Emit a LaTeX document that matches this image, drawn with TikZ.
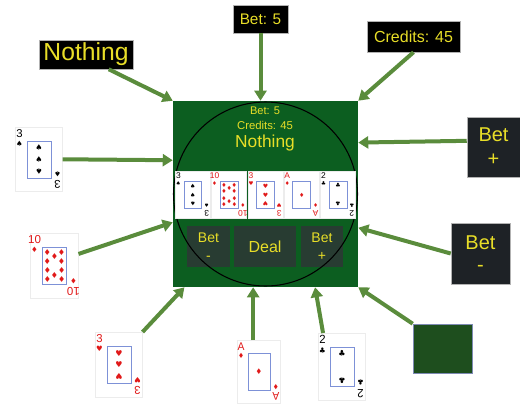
\documentclass[tikz,border=0pt]{standalone}
\usepackage{fontspec}
\setmainfont{Liberation Sans}
\newfontfamily\suitfont{DejaVu Sans}
\usetikzlibrary{arrows.meta}

\definecolor{tablegreen}{RGB}{12,94,32}
\definecolor{arrowgreen}{RGB}{90,140,60}
\definecolor{hudyellow}{RGB}{232,222,40}
\definecolor{btngray}{RGB}{40,60,50}
\definecolor{panelgray}{RGB}{30,34,38}
\definecolor{squaregreen}{RGB}{30,78,30}
\definecolor{cardred}{RGB}{225,25,25}
\definecolor{cardblue}{RGB}{125,145,215}

\tikzset{
  arrowin/.style={draw=arrowgreen, line width=3pt, -{Triangle[length=7.5pt,width=9pt]}},
  hudbox/.style={draw=gray!60, fill=black, text=hudyellow, inner sep=0pt},
  panelbox/.style={draw=gray!60, fill=panelgray, text=hudyellow, inner sep=0pt, align=center},
  btn/.style={fill=btngray, text=hudyellow, inner sep=0pt, align=center},
  hudtext/.style={text=hudyellow, inner sep=0pt},
  cardbox/.style={draw=gray!15, fill=white, inner sep=0pt},
  cardframe/.style={draw=cardblue, line width=0.6pt},
  rank/.style={inner sep=0pt, font=\fontsize{8.5}{8.5}\selectfont},
  suitmark/.style={inner sep=0pt, font=\suitfont\fontsize{5.5}{5.5}\selectfont},
  pip/.style={inner sep=0pt, font=\suitfont\fontsize{6}{6}\selectfont}
}

% name, top-left corner, width, height, rank, suit, colour, pips as x/y/turn
\newcommand{\playcard}[8]{%
  \node[cardbox, minimum width=#3*0.75pt, minimum height=#4*0.75pt, anchor=north west] (#1) at (#2) {};
  \begin{scope}[shift={(#1.north west)}, xscale=#3/47, yscale=#4/64, transform shape, text=#7]
    \draw[cardframe] (12,14) rectangle (36,51);
    \node[rank] (#1-rk) at (4.5,6.5) {#5};
    \node[suitmark] (#1-st) at (4.5,16.5) {#6};
    \node[rank, rotate=180] (#1-rkb) at (42.5,57.5) {#5};
    \node[suitmark, rotate=180] (#1-stb) at (42.5,47.5) {#6};
    \foreach \px/\py/\turn [count=\pipno] in {#8}
      \node[pip, rotate=\turn] (#1-pip\pipno) at (\px,\py) {#6};
  \end{scope}}

\begin{document}
\begin{tikzpicture}[x=0.75pt,y=-0.75pt]
  \useasboundingbox (0,0) rectangle (520,404);

  % the table
  \node[fill=tablegreen, minimum width=138.75pt, minimum height=139.5pt, inner sep=0pt] (table) at (265.5,194) {};

  \node[hudtext, font=\fontsize{8.3}{9}\selectfont] (tbet) at (265,111) {Bet: 5};
  \node[hudtext, font=\fontsize{8.5}{9}\selectfont] (tcredits) at (265,125) {Credits: 45};
  \node[hudtext, font=\fontsize{13}{14}\selectfont] (tresult) at (265,143) {Nothing};

  \node[btn, minimum width=32.25pt, minimum height=30.75pt, font=\fontsize{10.5}{13.5}\selectfont] (btnminus) at (208.5,246.5) {Bet\\-};
  \node[btn, minimum width=46.5pt, minimum height=30.75pt, font=\fontsize{12}{13}\selectfont] (btndeal) at (265,246.5) {Deal};
  \node[btn, minimum width=31.5pt, minimum height=30.75pt, font=\fontsize{10.5}{13.5}\selectfont] (btnplus) at (322,246.5) {Bet\\+};

  \node[circle, draw=black, line width=0.8pt, minimum size=138pt, inner sep=0pt] (rim) at (table.center) {};

  % the hand on the table
  \playcard{hand1}{175,171}{35}{47}{3}{♠}{black}{24/21/0,24/32.5/0,24/44/180}
  \playcard{hand2}{211.3,171}{35}{47}{10}{♦}{cardred}{17/19/0,17/28/0,17/37/180,17/46/180,31/19/0,31/28/0,31/37/180,31/46/180,24/23.5/0,24/41.5/180}
  \playcard{hand3}{247.6,171}{35}{47}{3}{♥}{cardred}{24/21/0,24/32.5/0,24/44/180}
  \playcard{hand4}{283.9,171}{35}{47}{A}{♦}{cardred}{24/32.5/0}
  \playcard{hand5}{320.2,171}{35}{47}{2}{♣}{black}{24/20/0,24/45/180}

  % parts around it
  \node[hudbox, minimum width=70.5pt, minimum height=21.75pt, font=\fontsize{18.5}{20}\selectfont] (nothing) at (86,54.5) {Nothing};
  \node[hudbox, minimum width=41.25pt, minimum height=21pt, font=\fontsize{11.5}{12}\selectfont] (bet) at (260.5,19) {Bet: 5};
  \node[hudbox, minimum width=69.75pt, minimum height=23.25pt, font=\fontsize{12}{13}\selectfont] (credits) at (413.5,36.5) {Credits: 45};

  \node[panelbox, minimum width=39.75pt, minimum height=45pt, font=\fontsize{15}{18}\selectfont] (betup) at (493.5,147) {Bet\\+};
  \node[panelbox, minimum width=44.25pt, minimum height=45.75pt, font=\fontsize{15}{17}\selectfont] (betdown) at (480.5,253.5) {Bet\\-};
  \node[fill=squaregreen, draw=cardblue!60!gray, minimum width=44.25pt, minimum height=36.75pt, inner sep=0pt] (greensq) at (442.5,348.5) {};

  \playcard{spade3}{15,127}{47}{64}{3}{♠}{black}{24/21/0,24/32.5/0,24/44/180}
  \playcard{diamond10}{30,233}{48}{65}{10}{♦}{cardred}{17/19/0,17/28/0,17/37/180,17/46/180,31/19/0,31/28/0,31/37/180,31/46/180,24/23.5/0,24/41.5/180}
  \playcard{heart3}{95,332}{47}{65}{3}{♥}{cardred}{24/21/0,24/32.5/0,24/44/180}
  \playcard{diamondA}{237,340}{43}{63}{A}{♦}{cardred}{24/32.5/0}
  \playcard{club2}{318,333}{47}{67}{2}{♣}{black}{24/20/0,24/45/180}

  % arrows into the table
  \draw[arrowin] (nothing.-33) -- (table.north west);
  \draw[arrowin] (bet.south) -- (bet.south |- table.north);
  \draw[arrowin] (credits.south) -- (table.north east);
  \draw[arrowin] (betup.167) -- (table.29.3);
  \draw[arrowin] (betdown.west) -- (table.-20);
  \draw[arrowin] (greensq.north west) -- (table.south east);
  \draw[arrowin] (club2.119) -- (table.-62.5);
  \draw[arrowin] (diamondA.100) -- (diamondA.100 |- table.south);
  \draw[arrowin] (heart3.north east) -- (table.229);
  \draw[arrowin] (diamond10.26) -- (table.197);
  \draw[arrowin] (spade3.east) -- (table.160);
\end{tikzpicture}
\end{document}
